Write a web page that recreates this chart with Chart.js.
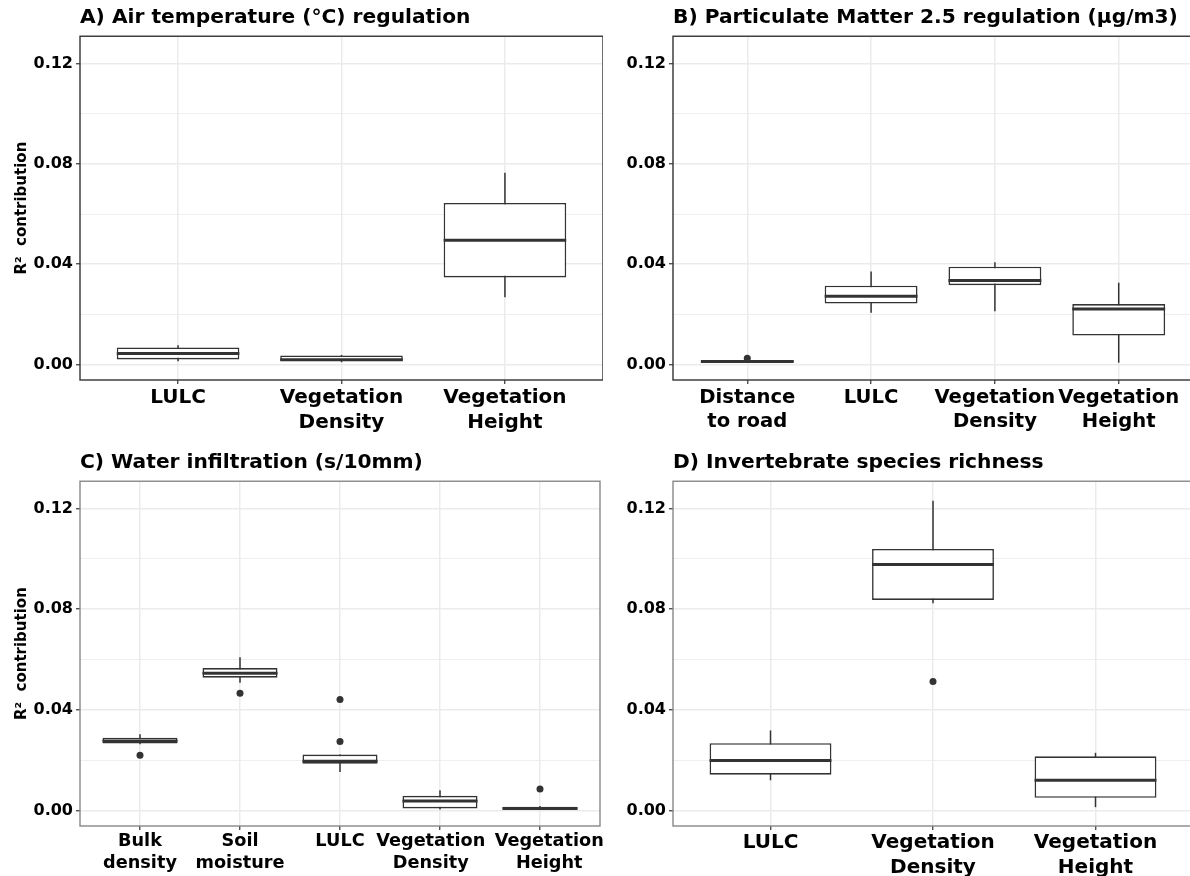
<!DOCTYPE html>
<html>
<head>
<meta charset="utf-8">
<script src="https://cdn.jsdelivr.net/npm/chart.js@4.4.1/dist/chart.umd.min.js"></script>
<style>
body{margin:0;background:#fff}
#wrap{position:relative;width:1190px;height:876px;overflow:hidden;background:#fff}
canvas{position:absolute}
</style>
</head>
<body>
<div id="wrap">
<canvas id="chartA" width="603" height="440" style="left:0;top:0;width:603px;height:440px"></canvas>
<canvas id="chartB" width="604" height="440" style="left:593px;top:0;width:604px;height:440px"></canvas>
<canvas id="chartC" width="615" height="431" style="left:0;top:445px;width:615px;height:431px"></canvas>
<canvas id="chartD" width="604" height="431" style="left:593px;top:445px;width:604px;height:431px"></canvas>
</div>
<script>
var FONT = 'DejaVu Sans';

// y axis shared by all panels
var yTickValues = [0, 0.02, 0.04, 0.06, 0.08, 0.10, 0.12];
var yMin = -0.0062, yMax = 0.1309;

// A) Air temperature
var aCats = [['LULC'], ['Vegetation', 'Density'], ['Vegetation', 'Height']];
var aLow  = [0.0013, 0.0009, 0.0268];
var aQ1   = [0.0020, 0.0015, 0.0347];
var aMed  = [0.0044, 0.0019, 0.0495];
var aQ3   = [0.0068, 0.0036, 0.0644];
var aHigh = [0.0077, 0.0038, 0.0765];
var aOut  = [[], [], []];

// B) PM 2.5
var bCats = [['Distance', 'to road'], ['LULC'], ['Vegetation', 'Density'], ['Vegetation', 'Height']];
var bLow  = [0.0007, 0.0206, 0.0212, 0.0007];
var bQ1   = [0.0009, 0.0243, 0.0316, 0.0115];
var bMed  = [0.0012, 0.0272, 0.0335, 0.0221];
var bQ3   = [0.0016, 0.0314, 0.0390, 0.0241];
var bHigh = [0.0018, 0.0371, 0.0408, 0.0326];
var bOut  = [[0.0025], [], [], []];

// C) Water infiltration (labels padded with spaces so the two long ones sit apart, as in the original)
var cCats = [['Bulk', 'density'], ['Soil', 'moisture'], ['LULC'], ['Vegetation   ', 'Density   '], ['   Vegetation', '   Height']];
var cLow  = [0.0263, 0.0508, 0.0153, 0.0004, 0.0002];
var cQ1   = [0.0266, 0.0528, 0.0186, 0.0008, 0.0004];
var cMed  = [0.0276, 0.0545, 0.0195, 0.0037, 0.0008];
var cQ3   = [0.0289, 0.0566, 0.0222, 0.0058, 0.0015];
var cHigh = [0.0303, 0.0609, 0.0222, 0.0080, 0.0018];
var cOut  = [[0.0219], [0.0466], [0.0274, 0.0441], [], [0.0085]];

// D) Invertebrate richness
var dCats = [['LULC'], ['Vegetation', 'Density'], ['Vegetation', 'Height']];
var dLow  = [0.0120, 0.0824, 0.0013];
var dQ1   = [0.0142, 0.0837, 0.0050];
var dMed  = [0.0198, 0.0978, 0.0120];
var dQ3   = [0.0267, 0.1040, 0.0215];
var dHigh = [0.0318, 0.1231, 0.0229];
var dOut  = [[], [0.0513], []];

function isMajor(v){ return Math.round(v * 100) % 4 === 0; }

// whiskers under the boxes, medians on top, frame round the panel
function boxParts(low, med, high, frame){
  return {
    id: 'boxParts',
    beforeDatasetsDraw: function(chart){
      var c = chart.ctx, xs = chart.scales.x, ys = chart.scales.y;
      c.save();
      c.strokeStyle = '#333';
      c.lineWidth = 1.5;
      for (var i = 0; i < low.length; i++) {
        var x = xs.getPixelForValue(i + 1);
        c.beginPath();
        c.moveTo(x, ys.getPixelForValue(low[i]));
        c.lineTo(x, ys.getPixelForValue(high[i]));
        c.stroke();
      }
      c.restore();
    },
    afterDatasetsDraw: function(chart){
      var c = chart.ctx, ys = chart.scales.y;
      var meta = chart.getDatasetMeta(0);
      c.save();
      c.strokeStyle = '#333';
      c.lineWidth = 3;
      meta.data.forEach(function(el, i){
        var y = ys.getPixelForValue(med[i]);
        c.beginPath();
        c.moveTo(el.x - el.width / 2, y);
        c.lineTo(el.x + el.width / 2, y);
        c.stroke();
      });
      var a = chart.chartArea;
      c.strokeStyle = frame;
      c.lineWidth = 1.4;
      c.strokeRect(a.left, a.top, a.right - a.left, a.bottom - a.top);
      c.restore();
    }
  };
}

function makePanel(id, title, cats, low, q1, med, q3, high, out, o){
  var boxes = cats.map(function(c, i){ return {x: i + 1, y: [q1[i], q3[i]]}; });
  var pts = [];
  out.forEach(function(arr, i){
    arr.forEach(function(v){ pts.push({x: i + 1, y: v}); });
  });
  new Chart(document.getElementById(id), {
    type: 'bar',
    data: {
      datasets: [
        {data: boxes, backgroundColor: '#fff', borderColor: '#333', borderWidth: 1.6,
         borderSkipped: false, barPercentage: 0.75, categoryPercentage: 1, grouped: false, order: 2},
        {type: 'scatter', data: pts, pointRadius: 3.5, pointBackgroundColor: '#333',
         pointBorderWidth: 0, order: 1}
      ]
    },
    options: {
      responsive: false,
      animation: false,
      layout: {padding: {right: o.padRight, left: 0, top: 0, bottom: 0}},
      plugins: {
        legend: {display: false},
        tooltip: {enabled: false},
        title: {display: true, text: title, align: 'start', fullSize: false, color: '#000',
                font: {family: FONT, size: 20.2, weight: 'bold', lineHeight: 1.2},
                padding: {top: 6, bottom: 6}}
      },
      scales: {
        x: {
          type: 'linear', min: 0.4, max: cats.length + 0.6, offset: false,
          afterBuildTicks: function(s){ s.ticks = cats.map(function(c, i){ return {value: i + 1}; }); },
          afterFit: function(s){ s.height = o.xHeight; },
          grid: {offset: false, color: '#ebebeb', lineWidth: 1.5, tickColor: '#333', tickLength: 4, tickWidth: 1.2},
          border: {display: false},
          ticks: {autoSkip: false, maxRotation: 0, color: '#000', padding: o.labelPad,
                  font: {family: FONT, size: o.labelSize, weight: 'bold', lineHeight: 1.22},
                  callback: function(v, i){ return cats[i]; }}
        },
        y: {
          min: yMin, max: yMax,
          afterBuildTicks: function(s){ s.ticks = yTickValues.map(function(v){ return {value: v}; }); },
          afterFit: function(s){ s.width = 80; },
          grid: {color: '#ebebeb',
                 lineWidth: function(c){ return c.tick && isMajor(c.tick.value) ? 1.5 : 0.8; },
                 tickColor: function(c){ return c.tick && isMajor(c.tick.value) ? '#333' : 'rgba(0,0,0,0)'; },
                 tickLength: 4, tickWidth: 1.2},
          border: {display: false},
          ticks: {color: '#000', padding: 3, font: {family: FONT, size: 16, weight: 'bold'},
                  callback: function(v){ return isMajor(v) ? v.toFixed(2) : ''; }},
          title: {display: o.yTitle, text: 'R\u00b2  contribution', color: '#000',
                  font: {family: FONT, size: 15, weight: 'bold'}, padding: {top: 13, bottom: 0}}
        }
      }
    },
    plugins: [boxParts(low, med, high, o.frame)]
  });
}

makePanel('chartA', 'A) Air temperature (\u00b0C) regulation', aCats, aLow, aQ1, aMed, aQ3, aHigh, aOut,
  {yTitle: true, xHeight: 60, labelSize: 20, labelPad: 2, padRight: 0, frame: '#333'});
makePanel('chartB', 'B) Particulate Matter 2.5 regulation (\u00b5g/m3)', bCats, bLow, bQ1, bMed, bQ3, bHigh, bOut,
  {yTitle: false, xHeight: 60, labelSize: 19.6, labelPad: 2, padRight: 0, frame: '#333'});
makePanel('chartC', 'C) Water infiltration (s/10mm)', cCats, cLow, cQ1, cMed, cQ3, cHigh, cOut,
  {yTitle: true, xHeight: 50, labelSize: 17.7, labelPad: 1, padRight: 15, frame: '#888'});
makePanel('chartD', 'D) Invertebrate species richness', dCats, dLow, dQ1, dMed, dQ3, dHigh, dOut,
  {yTitle: false, xHeight: 50, labelSize: 20, labelPad: 1, padRight: 0, frame: '#888'});
</script>
</body>
</html>
